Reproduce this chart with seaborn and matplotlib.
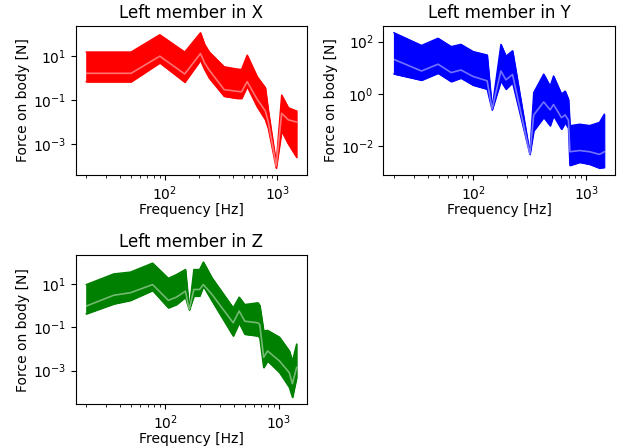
import numpy as np
import pandas as pd
import matplotlib
matplotlib.use("Agg")
import matplotlib.pyplot as plt
import seaborn as sns

# Valeurs (force en N, enveloppe haute / basse + ligne centrale)
freq_x = [20, 50, 90, 150, 207, 225, 248, 336, 440, 480, 538, 660, 780, 830, 975, 1090, 1250, 1480]
upper_x = [15.5, 15.5, 95, 15.5, 117, 35, 15.5, 3.3, 2.6, 2.5, 11.2, 1.17, 0.37, 0.032, 0.00013, 0.17, 0.045, 0.032]
lower_x = [0.69, 0.69, 5.0, 0.66, 6.6, 2.5, 1.0, 0.15, 0.12, 0.12, 0.42, 0.05, 0.013, 0.005, 0.00008, 0.0039, 0.001, 0.00025]
center_x = [1.66, 1.66, 10.0, 1.55, 13.2, 5.0, 2.3, 0.30, 0.25, 0.24, 0.69, 0.11, 0.032, 0.01, 0.0001, 0.025, 0.0126, 0.01]

freq_y = [20, 35, 49, 64, 78, 100, 133, 147, 176, 195, 223, 317, 343, 420, 479, 513, 603, 650, 695, 716, 873, 1070, 1306, 1440]
upper_y = [219, 72, 135, 65, 79, 42, 31, 0.28, 79, 28, 45, 0.0054, 1.15, 5.8, 2.0, 4.9, 1.0, 1.3, 0.63, 0.062, 0.071, 0.063, 0.083, 0.17]
lower_y = [5.9, 3.4, 6.3, 3.0, 4.1, 2.2, 1.55, 0.25, 3.2, 1.55, 2.75, 0.005, 0.04, 0.13, 0.062, 0.15, 0.046, 0.08, 0.05, 0.0019, 0.0025, 0.0021, 0.0015, 0.0016]
center_y = [21, 7.6, 13.8, 6.6, 8.3, 4.7, 3.2, 0.27, 7.6, 3.5, 5.6, 0.0052, 0.16, 0.5, 0.25, 0.4, 0.126, 0.16, 0.1, 0.0063, 0.007, 0.0063, 0.005, 0.0063]

freq_z = [20, 35, 49, 77, 106, 125, 150, 162, 178, 200, 216, 258, 396, 447, 501, 656, 680, 735, 796, 1014, 1239, 1320, 1436]
upper_z = [9.3, 29, 35, 91, 18, 27, 46, 0.68, 46, 46, 102, 18.6, 0.79, 2.45, 1.12, 1.35, 1.0, 0.068, 0.072, 0.035, 0.0081, 0.0028, 0.0166]
lower_z = [0.42, 1.2, 1.74, 5.0, 0.79, 1.12, 2.45, 0.63, 2.75, 2.75, 7.8, 1.62, 0.04, 0.16, 0.048, 0.04, 0.032, 0.0014, 0.0028, 0.00083, 0.00017, 0.000059, 0.00049]
center_z = [0.95, 3.0, 3.9, 9.3, 1.74, 2.45, 4.6, 0.66, 5.5, 5.5, 9.3, 3.2, 0.16, 0.56, 0.19, 0.16, 0.13, 0.0041, 0.0081, 0.0028, 0.0008, 0.00025, 0.0014]

panels = [
    ("Left member in X", "red", freq_x, upper_x, lower_x, center_x),
    ("Left member in Y", "blue", freq_y, upper_y, lower_y, center_y),
    ("Left member in Z", "green", freq_z, upper_z, lower_z, center_z),
]

fig, axes = plt.subplots(2, 2, figsize=(6.21, 4.48), dpi=100)
axes = axes.flatten()

for ax, (title, color, freq, up, lo, mid) in zip(axes, panels):
    df = pd.DataFrame({"freq": freq, "upper": up, "lower": lo, "center": mid})
    ax.fill_between(df["freq"], df["lower"], df["upper"], color=color, lw=0.8)
    sns.lineplot(data=df, x="freq", y="upper", color=color, lw=1, ax=ax)
    sns.lineplot(data=df, x="freq", y="lower", color=color, lw=1, ax=ax)
    sns.lineplot(data=df, x="freq", y="center", color="white", alpha=0.45, lw=1.2, ax=ax)
    ax.set_xscale("log")
    ax.set_yscale("log")
    ax.set_title(title)
    ax.set_xlabel("Frequency [Hz]", labelpad=0)
    ax.set_ylabel("Force on body [N]", labelpad=2)

axes[3].remove()

plt.subplots_adjust(left=0.122, right=0.990, top=0.942, bottom=0.098, wspace=0.33, hspace=0.54)
plt.savefig("out.png", dpi=100)
